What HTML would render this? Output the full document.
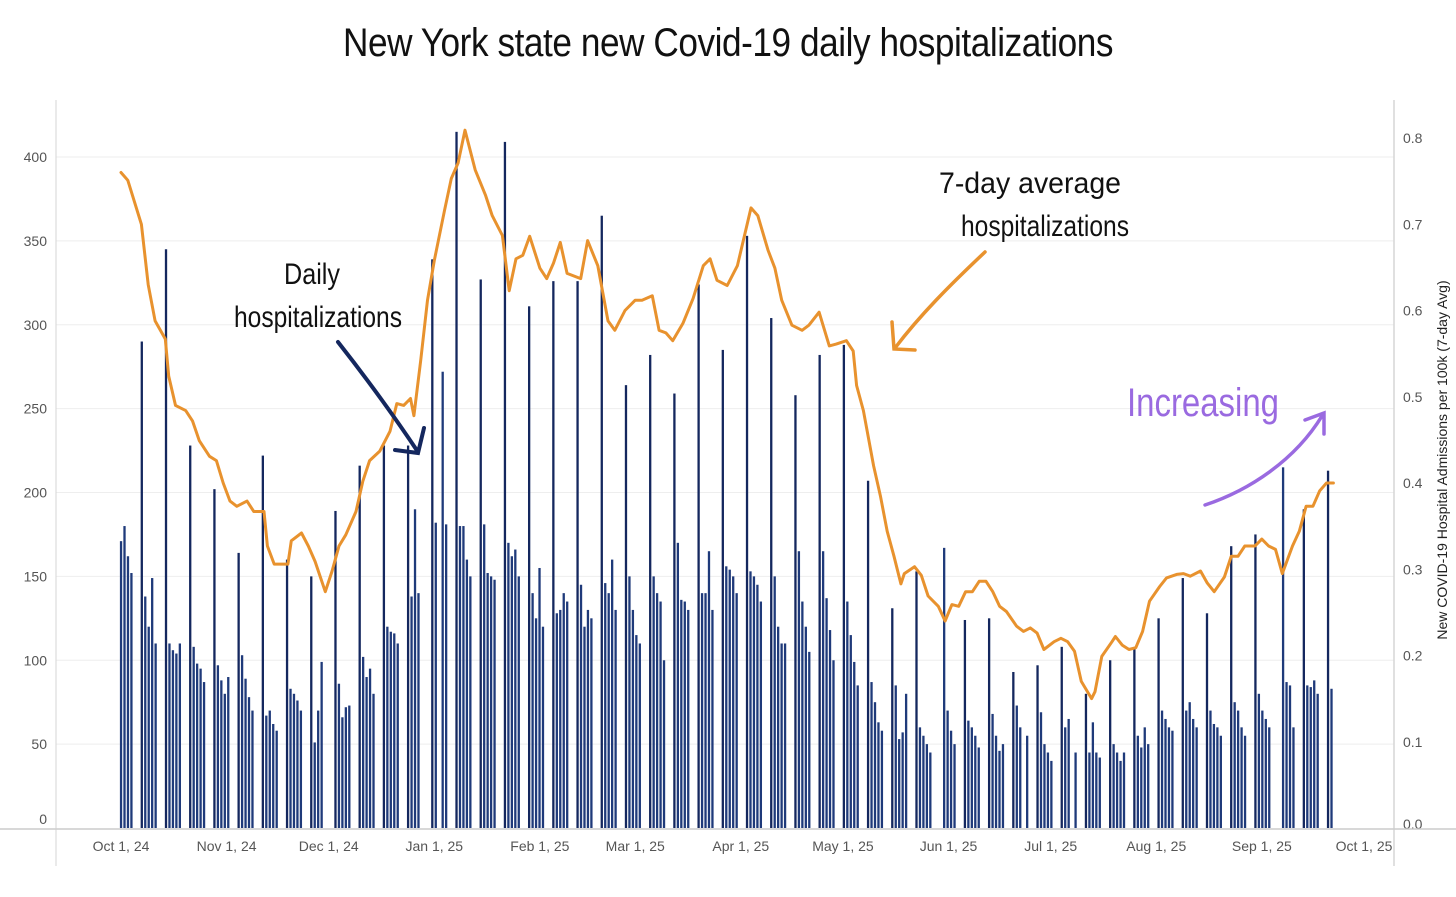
<!DOCTYPE html>
<html><head><meta charset="utf-8">
<style>
html,body{margin:0;padding:0;background:#fff;}
body{width:1456px;height:892px;overflow:hidden;font-family:"Liberation Sans",sans-serif;}
svg text{font-family:"Liberation Sans",sans-serif;}
</style></head>
<body>
<svg id="chart" width="1456" height="892" viewBox="0 0 1456 892" xmlns="http://www.w3.org/2000/svg">
<text x="728" y="56" text-anchor="middle" font-size="40" fill="#111" style="font-weight:300;letter-spacing:-0.5px" textLength="770" lengthAdjust="spacingAndGlyphs">New York state new Covid-19 daily hospitalizations</text>
<g id="grid"></g>
<g id="bars"></g>
<g id="line"></g>
<g id="axes"></g>
<text transform="translate(1447,460) rotate(-90)" text-anchor="middle" font-size="14" fill="#222">New COVID-19 Hospital Admissions per 100k (7-day Avg)</text>
<text x="312" y="284" text-anchor="middle" font-size="30" fill="#111" style="font-weight:300" textLength="56" lengthAdjust="spacingAndGlyphs">Daily</text>
<text x="318" y="327" text-anchor="middle" font-size="30" fill="#111" style="font-weight:300" textLength="168" lengthAdjust="spacingAndGlyphs">hospitalizations</text>
<path d="M338,342 C360,370 390,410 418,452 M395,450 L418,453 L424,428" stroke="#14275e" stroke-width="4" fill="none" stroke-linecap="round"/>
<text x="1030" y="193" text-anchor="middle" font-size="30" fill="#111" style="font-weight:300" textLength="182" lengthAdjust="spacingAndGlyphs">7-day average</text>
<text x="1045" y="236" text-anchor="middle" font-size="30" fill="#111" style="font-weight:300" textLength="168" lengthAdjust="spacingAndGlyphs">hospitalizations</text>
<path d="M985,252 C950,285 920,315 895,348 M892,322 L894,349 L915,350" stroke="#e8922e" stroke-width="3.5" fill="none" stroke-linecap="round"/>
<text x="1203" y="416" text-anchor="middle" font-size="40" fill="#9a6ae0" style="font-weight:300" textLength="152" lengthAdjust="spacingAndGlyphs">Increasing</text>
<path d="M1205,505 C1250,490 1295,460 1322,416 M1305,420 L1324,413 L1324,434" stroke="#9a6ae0" stroke-width="3.5" fill="none" stroke-linecap="round"/>
</svg>
<script>
// Daily hospitalizations: weeks starting Monday Sep 30, 2024; [Mon,Tue,Wed,Thu,Fri]
const weeklyBars = [
[0,171,180,162,152],[290,138,120,149,110],[345,110,106,104,110],[228,108,98,95,87],
[202,97,88,80,90],[164,103,89,78,70],[222,67,70,62,58],[160,83,80,76,70],
[150,51,70,99,0],[189,86,66,72,73],[216,102,90,95,80],[228,120,117,116,110],
[228,138,190,140,0],[339,182,0,272,181],[415,180,180,160,150],[327,181,152,150,148],
[409,170,162,166,150],[311,140,125,155,120],[326,128,130,140,135],[326,145,120,130,125],
[365,146,140,160,130],[264,150,130,115,110],[282,150,140,135,100],[259,170,136,135,130],
[324,140,140,165,130],[285,156,154,150,140],[353,153,150,145,135],[304,150,120,110,110],
[258,165,135,120,105],[282,165,137,118,100],[288,135,115,99,85],[207,87,75,63,58],
[131,85,53,57,80],[153,60,55,50,45],[0,167,70,58,50],[124,64,60,55,48],
[125,68,55,46,50],[93,73,60,0,55],[97,69,50,45,40],[108,60,65,0,45],
[80,45,63,45,42],[100,50,45,40,45],[107,55,48,60,50],[125,70,65,60,58],
[149,70,75,65,60],[128,70,62,60,55],[168,75,70,60,55],[175,80,70,65,60],
[0,215,87,85,60],[190,85,84,88,80],[213,83,0,0,0]
];
// 7-day average: day offsets from Oct 1 2024, values per 100k
const avgDays = [0,2,6,8,10,13,14,16,19,21,23,26,28,30,32,34,37,39,42,43,45,49,50,53,55,57,60,62,64,66,69,71,73,76,79,81,83,85,86,88,90,92,95,97,99,101,104,107,109,112,114,116,118,120,123,125,127,129,131,135,137,140,143,145,148,151,153,156,158,160,162,165,168,171,173,175,178,181,185,187,190,192,194,197,200,202,205,208,210,213,215,216,218,221,223,225,227,229,230,233,235,237,240,242,244,246,248,250,252,254,256,258,260,263,265,267,269,271,274,276,278,280,282,285,286,288,291,292,294,296,298,300,302,305,307,310,312,314,317,319,321,324,326,328,330,333,335,337,339,341,344,346,348,350,352,354,356];
const avgValues = [0.760,0.751,0.70,0.63,0.588,0.567,0.524,0.49,0.484,0.472,0.449,0.431,0.426,0.40,0.379,0.373,0.379,0.367,0.367,0.327,0.306,0.306,0.333,0.342,0.327,0.309,0.274,0.298,0.327,0.340,0.367,0.402,0.426,0.437,0.46,0.492,0.49,0.498,0.478,0.542,0.612,0.658,0.716,0.753,0.771,0.809,0.763,0.734,0.71,0.687,0.623,0.66,0.664,0.686,0.649,0.637,0.655,0.679,0.643,0.637,0.681,0.652,0.588,0.577,0.60,0.612,0.612,0.617,0.577,0.574,0.565,0.585,0.614,0.652,0.66,0.635,0.629,0.652,0.719,0.71,0.67,0.649,0.612,0.583,0.577,0.583,0.598,0.559,0.561,0.565,0.553,0.513,0.484,0.42,0.385,0.344,0.315,0.283,0.295,0.303,0.293,0.269,0.257,0.24,0.259,0.257,0.274,0.274,0.286,0.286,0.274,0.257,0.251,0.234,0.228,0.232,0.226,0.207,0.216,0.220,0.216,0.205,0.170,0.150,0.158,0.199,0.216,0.222,0.212,0.207,0.209,0.228,0.263,0.280,0.290,0.294,0.295,0.292,0.298,0.284,0.274,0.291,0.315,0.315,0.327,0.327,0.335,0.327,0.323,0.295,0.327,0.344,0.373,0.373,0.391,0.40,0.40];
const leftTicks = [0,50,100,150,200,250,300,350,400];
const rightTicks = [0.0,0.1,0.2,0.3,0.4,0.5,0.6,0.7,0.8];
const xTickLabels = ["Oct 1, 24","Nov 1, 24","Dec 1, 24","Jan 1, 25","Feb 1, 25","Mar 1, 25","Apr 1, 25","May 1, 25","Jun 1, 25","Jul 1, 25","Aug 1, 25","Sep 1, 25","Oct 1, 25"];
const xTickDays = [0,31,61,92,123,151,182,212,243,273,304,335,365];

const NS="http://www.w3.org/2000/svg";
const base=828, x0=121, pxPerDay=(1364-121)/365, barPxPerDay=(1328-121)/349;
const xScale=d=>x0+d*pxPerDay;
const xBar=d=>x0+d*barPxPerDay;
const yLeft=v=>base-v*(base-157)/400;
const yRight=v=>base-v*(base-138)/0.8;
function mk(tag,attrs,parent){const e=document.createElementNS(NS,tag);for(const k in attrs)e.setAttribute(k,attrs[k]);parent.appendChild(e);return e;}
const grid=document.getElementById('grid'),axes=document.getElementById('axes'),bars=document.getElementById('bars'),line=document.getElementById('line');

leftTicks.forEach(v=>{
  const y=yLeft(v);
  if(v>0){const g=mk('line',{x1:56,x2:1394,y1:y,y2:y,stroke:'#eeeeee','stroke-width':1},grid);
  
  }
  const t=mk('text',{x:47,y:(v===0?y-4:y+5),'text-anchor':'end','font-size':14,fill:'#555'},axes);
  t.textContent=v;
  
  
});
rightTicks.forEach(v=>{
  const y=yRight(v);
  const t=mk('text',{x:1403,y:y+5-(v===0?4:0),'text-anchor':'start','font-size':14,fill:'#555'},axes);
  t.textContent=v.toFixed(1);
  
  
});
xTickLabels.forEach((lab,i)=>{
  const t=mk('text',{x:xScale(xTickDays[i]),y:851,'text-anchor':'middle','font-size':14,fill:'#555'},axes);
  t.textContent=lab;
  
  
});
let a;
a=mk('line',{x1:56,x2:56,y1:100,y2:866,stroke:'#d6d6d6','stroke-width':1},axes);


a=mk('line',{x1:1394,x2:1394,y1:100,y2:866,stroke:'#d6d6d6','stroke-width':1.5},axes);


a=mk('line',{x1:0,x2:1456,y1:base+1,y2:base+1,stroke:'#cccccc','stroke-width':1.5},axes);



weeklyBars.forEach((wk,w)=>{
  wk.forEach((v,d)=>{
    const day=-1+7*w+d;
    if(v<=0||day<0)return;
    const x=xBar(day);
    const r=mk('rect',{x:x-1.1,y:yLeft(v),width:2.3,height:base-yLeft(v),fill:(d===0?'#14275e':'#1f3a7a')},bars);
    
    
  });
});
const pts=avgDays.map((d,i)=>xScale(d).toFixed(1)+','+yRight(avgValues[i]).toFixed(1)).join(' ');
const pl=mk('polyline',{points:pts,fill:'none',stroke:'#e8922e','stroke-width':3,'stroke-linejoin':'round','stroke-linecap':'round'},line);


</script>
</body></html>
